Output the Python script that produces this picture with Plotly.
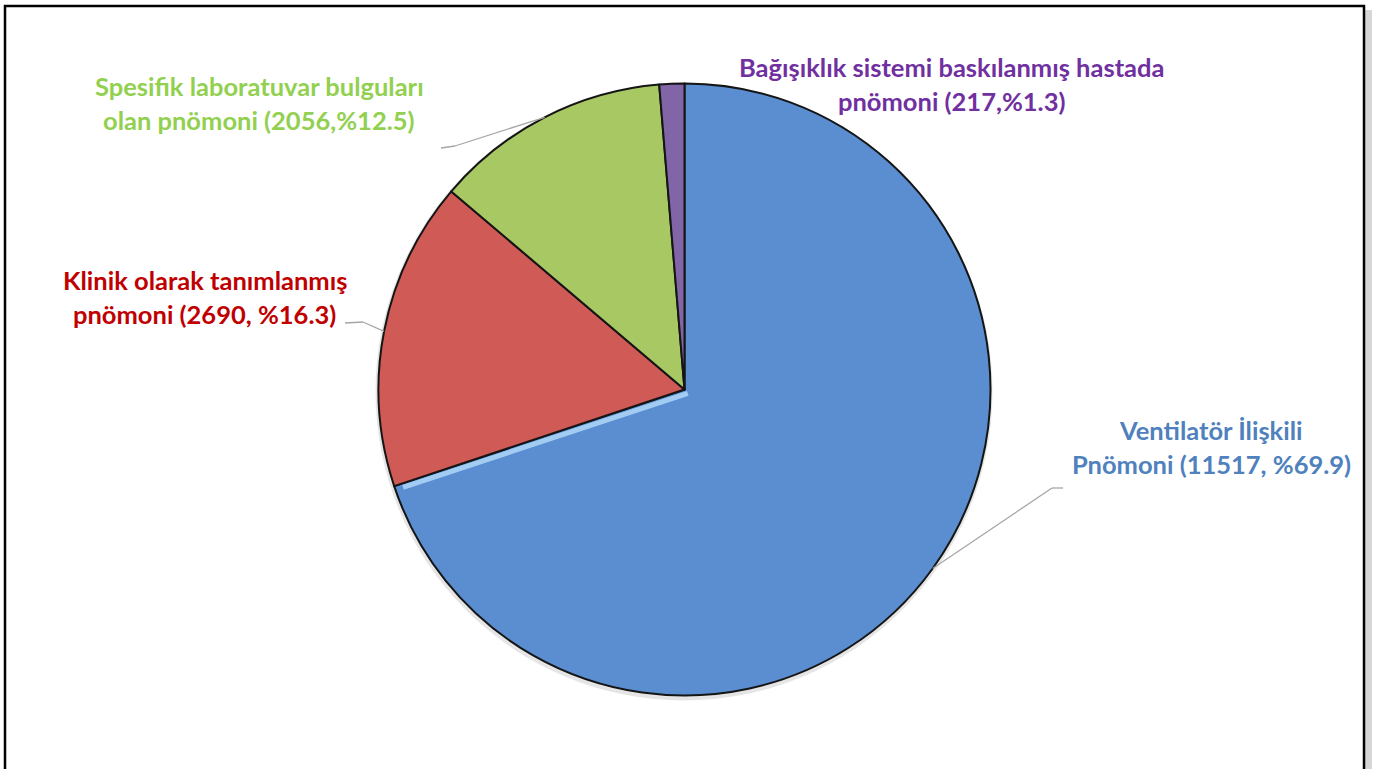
import math
import plotly.graph_objects as go

categories = ["Ventilatör İlişkili Pnömoni",
              "Klinik olarak tanımlanmış pnömoni",
              "Spesifik laboratuvar bulguları olan pnömoni",
              "Bağışıklık sistemi baskılanmış hastada pnömoni"]
values = [11517, 2690, 2056, 217]
percents = [69.9, 16.3, 12.5, 1.3]
label_lines = [["Ventilatör İlişkili", "Pnömoni (11517, %69.9)"],
               ["Klinik olarak tanımlanmış", "pnömoni (2690, %16.3)"],
               ["Spesifik laboratuvar bulguları", "olan pnömoni (2056,%12.5)"],
               ["Bağışıklık sistemi baskılanmış hastada", "pnömoni (217,%1.3)"]]

slice_colors = ["#5A8ED0", "#CF5A56", "#A8C864", "#8265A6"]
text_colors = ["#4F81BD", "#C00000", "#92D050", "#7030A0"]

W, H = 1375, 769
cx, cy, R = 684.5, 389.5, 306.0  # page-pixel geometry of the pie


def px(x):
    return x / W


def py(y):
    return 1 - y / H


fig = go.Figure()
fig.add_trace(go.Pie(
    labels=categories, values=values, sort=False, direction="clockwise",
    rotation=0, textinfo="none", hoverinfo="skip",
    marker=dict(colors=slice_colors, line=dict(color="#151515", width=2)),
    domain=dict(x=[px(cx - R), px(cx + R)], y=[py(cy + R), py(cy - R)]),
    showlegend=False,
))

shapes = []
# frame with shadow
shapes.append(dict(type="rect", xref="paper", yref="paper",
                   x0=px(9), x1=px(1372), y0=py(790), y1=py(10),
                   fillcolor="rgba(0,0,0,0.16)", line=dict(width=0), layer="below"))
shapes.append(dict(type="rect", xref="paper", yref="paper",
                   x0=px(5), x1=px(1364), y0=py(790), y1=py(6),
                   fillcolor="white", line=dict(color="black", width=2.5), layer="below"))
# soft pie shadow
shapes.append(dict(type="circle", xref="paper", yref="paper",
                   x0=px(cx - R - 3), x1=px(cx + R + 2), y0=py(cy + R + 5), y1=py(cy - R - 1),
                   fillcolor="rgba(0,0,0,0.10)", line=dict(width=0), layer="below"))

# label positions (page pixels) and elbow points of leader lines
label_pos = [(1211, 430), (205, 280), (259, 86), (951, 67)]
line_gap = 34
elbows = [[(1063, 488), (1052, 488)], [(345, 323), (363, 322)], [(441, 148), (455, 146)], None]

total = sum(values)
cum = 0
for i, v in enumerate(values):
    mid = (cum + v / 2) / total * 2 * math.pi
    cum += v
    ex = cx + R * math.sin(mid)
    ey = cy - R * math.cos(mid)
    if elbows[i]:
        (ax, ay), (bx, by) = elbows[i]
        shapes.append(dict(type="line", xref="paper", yref="paper",
                           x0=px(ax), y0=py(ay), x1=px(bx), y1=py(by),
                           line=dict(color="#A6A6A6", width=1.3)))
        shapes.append(dict(type="line", xref="paper", yref="paper",
                           x0=px(bx), y0=py(by), x1=px(ex), y1=py(ey),
                           line=dict(color="#A6A6A6", width=1.3)))

# light bevel highlight along the end edge of the first (blue) slice
end_ang = values[0] / total * 2 * math.pi
nx, ny = -math.cos(end_ang), -math.sin(end_ang)  # normal pointing into the blue slice
off = 4
sx0 = cx + 2 + off * nx
sy0 = cy + off * ny
sx1 = cx + (R - 8) * math.sin(end_ang) + off * nx
sy1 = cy - (R - 8) * math.cos(end_ang) + off * ny
shapes.append(dict(type="line", xref="paper", yref="paper",
                   x0=px(sx0), y0=py(sy0), x1=px(sx1), y1=py(sy1),
                   line=dict(color="#A3CCF3", width=5)))

annotations = []
for i, lines in enumerate(label_lines):
    lx, ly = label_pos[i]
    for j, t in enumerate(lines):
        annotations.append(dict(
            x=px(lx), y=py(ly + j * line_gap), xref="paper", yref="paper",
            text="<b>" + t + "</b>", showarrow=False, xanchor="center", yanchor="middle",
            font=dict(family="Lato, Open Sans, sans-serif", size=25.5, color=text_colors[i])))

fig.update_layout(
    width=W, height=H, margin=dict(l=0, r=0, t=0, b=0),
    paper_bgcolor="white", plot_bgcolor="white",
    shapes=shapes, annotations=annotations,
)
fig.write_html("out.html", config={"displayModeBar": False},
               post_script="document.body.style.margin='0';document.body.style.overflow='hidden';")
